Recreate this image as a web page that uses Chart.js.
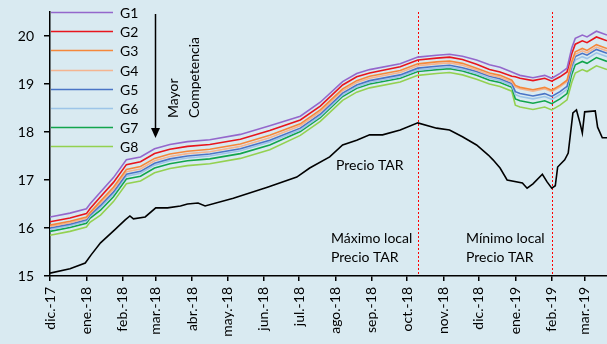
<!DOCTYPE html>
<html>
<head>
<meta charset="utf-8">
<script src="https://cdn.jsdelivr.net/npm/chart.js@4/dist/chart.umd.min.js"></script>
<style>
html,body{margin:0;padding:0;background:#D9EAF1;}
#wrap{width:607px;height:344px;position:relative;overflow:hidden;}
canvas{display:block;}
</style>
</head>
<body>
<div id="wrap"><canvas id="c" width="607" height="344"></canvas></div>
<script>
// ---- Data (x = days since 1 Dec 2017) ----
const monthDays   = [0, 31, 62, 90, 121, 151, 182, 212, 243, 274, 304, 335, 365, 396, 427, 455];
const monthLabels = ['dic.-17','ene.-18','feb.-18','mar.-18','abr.-18','may.-18','jun.-18','jul.-18',
                     'ago.-18','sep.-18','oct.-18','nov.-18','dic.-18','ene.-19','feb.-19','mar.-19'];
const yTicks = [15, 16, 17, 18, 19, 20];
const markerDays = [313, 427]; // máximo local / mínimo local Precio TAR

const gDays = [0,17,31,34,43,54,65,77,89,102,117,136,162,187,213,230,249,261,272,298,313,329,340,351,363,374,383,393,396,400,411,421,427,434,440,444,447,453,457,465,474];
const G1 = [16.23,16.31,16.40,16.50,16.75,17.05,17.42,17.48,17.65,17.74,17.80,17.84,17.95,18.13,18.33,18.62,19.05,19.22,19.30,19.42,19.56,19.60,19.62,19.58,19.50,19.40,19.35,19.25,19.22,19.18,19.13,19.18,19.12,19.22,19.33,19.75,19.95,20.02,19.98,20.10,20.02];
const G2 = [16.13,16.21,16.30,16.40,16.65,16.95,17.32,17.38,17.55,17.64,17.70,17.74,17.85,18.03,18.25,18.54,18.98,19.15,19.23,19.36,19.50,19.54,19.56,19.51,19.41,19.30,19.25,19.16,19.15,19.12,19.07,19.12,19.06,19.15,19.25,19.63,19.83,19.90,19.86,19.98,19.90];
const G3 = [16.06,16.14,16.23,16.32,16.56,16.85,17.22,17.28,17.45,17.54,17.60,17.64,17.75,17.93,18.17,18.46,18.90,19.07,19.16,19.28,19.42,19.46,19.48,19.43,19.33,19.23,19.18,19.08,18.97,18.93,18.88,18.93,18.87,18.97,19.08,19.47,19.67,19.74,19.70,19.82,19.74];
const G4 = [16.03,16.11,16.20,16.30,16.52,16.80,17.17,17.23,17.40,17.49,17.55,17.59,17.70,17.88,18.13,18.42,18.86,19.03,19.12,19.24,19.38,19.42,19.44,19.39,19.29,19.19,19.14,19.04,18.94,18.90,18.85,18.90,18.84,18.94,19.05,19.42,19.62,19.69,19.65,19.77,19.69];
const G5 = [16.00,16.08,16.17,16.27,16.47,16.75,17.12,17.18,17.35,17.44,17.50,17.54,17.65,17.83,18.08,18.37,18.81,18.98,19.07,19.19,19.33,19.37,19.39,19.34,19.26,19.16,19.11,19.01,18.84,18.80,18.75,18.80,18.74,18.84,18.95,19.37,19.57,19.64,19.60,19.72,19.64];
const G6 = [15.97,16.05,16.14,16.24,16.43,16.71,17.08,17.14,17.31,17.40,17.46,17.50,17.61,17.79,18.04,18.33,18.77,18.94,19.03,19.15,19.29,19.33,19.35,19.30,19.22,19.12,19.07,18.97,18.78,18.74,18.69,18.74,18.68,18.78,18.89,19.30,19.50,19.57,19.53,19.65,19.57];
const G7 = [15.93,16.01,16.10,16.20,16.37,16.65,17.02,17.08,17.25,17.34,17.40,17.44,17.55,17.73,18.01,18.30,18.74,18.91,19.00,19.12,19.26,19.30,19.32,19.27,19.18,19.08,19.03,18.93,18.69,18.65,18.60,18.65,18.59,18.69,18.80,19.20,19.40,19.47,19.43,19.55,19.47];
const G8 = [15.85,15.93,16.02,16.12,16.27,16.55,16.92,16.98,17.15,17.24,17.30,17.34,17.45,17.63,17.93,18.22,18.66,18.83,18.92,19.04,19.18,19.22,19.24,19.19,19.10,19.00,18.95,18.85,18.56,18.52,18.47,18.52,18.46,18.56,18.67,19.03,19.23,19.30,19.26,19.38,19.30];

const tarDays   = [0,17,30,35,43,55,64,68,71,81,90,100,111,117,126,132,156,185,210,221,238,249,261,272,283,298,313,329,340,351,363,373,377,383,389,402,406,411,419,423,427,430,432,438,441,443,445,448,451,453,455,464,466,470,474];
const tarValues = [15.06,15.15,15.27,15.44,15.69,15.96,16.17,16.25,16.19,16.23,16.42,16.42,16.46,16.50,16.52,16.46,16.62,16.85,17.06,17.25,17.48,17.73,17.83,17.94,17.94,18.04,18.19,18.08,18.04,17.90,17.73,17.52,17.42,17.25,17.00,16.94,16.83,16.92,17.12,16.96,16.83,16.88,17.27,17.42,17.56,17.98,18.40,18.46,18.19,17.98,18.42,18.44,18.10,17.88,17.88];

const seriesNames  = ['G1','G2','G3','G4','G5','G6','G7','G8'];
const seriesValues = [G1, G2, G3, G4, G5, G6, G7, G8];
const seriesColors = ['#9467CC','#E8151D','#F5873A','#F4B490','#4A74C6','#9DC5E8','#12A54C','#93D150'];

const FONT = 'Lato, "Open Sans", sans-serif';
const BG = '#D9EAF1';

const toPts = (xs, ys) => xs.map((x, i) => ({x: x, y: ys[i]}));

const datasets = seriesNames.map((n, i) => ({
  label: n,
  data: toPts(gDays, seriesValues[i]),
  borderColor: seriesColors[i],
  borderWidth: 1.6,
  pointRadius: 0,
  tension: 0,
  fill: false,
  order: i
}));
datasets.push({
  label: 'Precio TAR',
  data: toPts(tarDays, tarValues),
  borderColor: '#000000',
  borderWidth: 1.6,
  pointRadius: 0,
  tension: 0,
  fill: false,
  order: 10
});

const decor = {
  id: 'decor',
  beforeDraw(chart) {
    const ctx = chart.ctx;
    ctx.save();
    ctx.fillStyle = BG;
    ctx.fillRect(0, 0, chart.width, chart.height);
    ctx.restore();
  },
  beforeDatasetsDraw(chart) {
    const ctx = chart.ctx, xs = chart.scales.x, a = chart.chartArea;
    ctx.save();
    ctx.strokeStyle = '#FF0000';
    ctx.lineWidth = 1;
    ctx.setLineDash([2, 2]);
    markerDays.forEach(d => {
      const px = Math.round(xs.getPixelForValue(d)) + 0.5;
      ctx.beginPath();
      ctx.moveTo(px, a.top);
      ctx.lineTo(px, a.bottom);
      ctx.stroke();
    });
    ctx.restore();
  },
  afterDraw(chart) {
    const ctx = chart.ctx, a = chart.chartArea;
    ctx.save();
    // legend
    ctx.font = '14px ' + FONT;
    ctx.textBaseline = 'middle';
    ctx.textAlign = 'left';
    const rowTop = 12, rowGap = 19.2;
    seriesNames.forEach((n, i) => {
      const y = Math.round(rowTop + i * rowGap) + 0.5;
      ctx.strokeStyle = seriesColors[i];
      ctx.lineWidth = 1.6;
      ctx.beginPath();
      ctx.moveTo(a.left + 1, y);
      ctx.lineTo(113, y);
      ctx.stroke();
      ctx.fillStyle = '#000';
      ctx.fillText(n, 120, y + 1);
    });
    // arrow
    ctx.strokeStyle = '#000';
    ctx.fillStyle = '#000';
    ctx.lineWidth = 1.5;
    ctx.beginPath();
    ctx.moveTo(155.5, 14);
    ctx.lineTo(155.5, 129);
    ctx.stroke();
    ctx.beginPath();
    ctx.moveTo(151, 128);
    ctx.lineTo(160, 128);
    ctx.lineTo(155.5, 138);
    ctx.closePath();
    ctx.fill();
    // rotated text
    ctx.save();
    ctx.font = '14px ' + FONT;
    ctx.textAlign = 'left';
    ctx.textBaseline = 'middle';
    ctx.translate(173, 118);
    ctx.rotate(-Math.PI / 2);
    ctx.fillText('Mayor', 0, 0);
    ctx.restore();
    ctx.save();
    ctx.font = '14px ' + FONT;
    ctx.textAlign = 'left';
    ctx.textBaseline = 'middle';
    ctx.translate(194, 118);
    ctx.rotate(-Math.PI / 2);
    ctx.fillText('Competencia', 0, 0);
    ctx.restore();
    // annotations
    ctx.fillStyle = '#000';
    ctx.font = '14px ' + FONT;
    ctx.textAlign = 'left';
    ctx.textBaseline = 'middle';
    ctx.fillText('Precio TAR', 336, 165);
    ctx.fillText('Máximo local', 331, 238);
    ctx.fillText('Precio TAR', 331, 257);
    ctx.fillText('Mínimo local', 466, 238);
    ctx.fillText('Precio TAR', 466, 257);
    ctx.restore();
  }
};

new Chart(document.getElementById('c'), {
  type: 'line',
  data: { datasets: datasets },
  plugins: [decor],
  options: {
    responsive: false,
    animation: false,
    events: [],
    layout: { padding: { top: 12, right: 0, left: 0, bottom: 0 } },
    plugins: { legend: { display: false }, tooltip: { enabled: false } },
    scales: {
      x: {
        type: 'linear',
        min: 0,
        max: 474,
        afterBuildTicks(scale) { scale.ticks = monthDays.map(v => ({ value: v })); },
        afterFit(scale) { scale.height = 68; scale.paddingLeft = 0; scale.paddingRight = 0; },
        ticks: {
          autoSkip: false,
          maxRotation: 90,
          minRotation: 90,
          padding: 6,
          color: '#000',
          font: { family: FONT, size: 14 },
          callback(v, i) { return monthLabels[i]; }
        },
        grid: { drawOnChartArea: false, drawTicks: true, tickLength: 5, color: '#000', lineWidth: 1.5 },
        border: { display: true, color: '#000', width: 1.5 }
      },
      y: {
        type: 'linear',
        min: 15,
        max: 20.5,
        afterBuildTicks(scale) { scale.ticks = yTicks.map(v => ({ value: v })); },
        afterFit(scale) { scale.width = 50; scale.paddingTop = 0; scale.paddingBottom = 0; },
        ticks: {
          padding: 10,
          color: '#000',
          font: { family: FONT, size: 14 },
          callback(v) { return String(v); }
        },
        grid: { drawOnChartArea: false, drawTicks: true, tickLength: 6, color: '#000', lineWidth: 1.5 },
        border: { display: true, color: '#000', width: 1.5 }
      }
    }
  }
});
</script>
</body>
</html>
